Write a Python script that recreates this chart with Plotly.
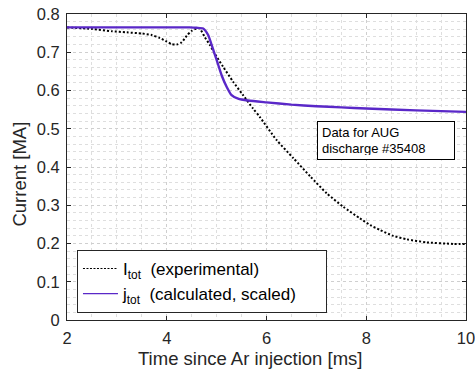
import plotly.graph_objects as go

# Experimental total current I_tot [MA]
t_exp = [2.0, 2.5, 2.9, 3.2, 3.5, 3.7, 3.85, 4.0, 4.1, 4.2, 4.3, 4.4, 4.5, 4.6, 4.66,
         4.76, 4.87, 4.96, 5.13, 5.33, 5.53, 5.73, 5.87, 6.2, 6.54, 6.88, 7.21, 7.54,
         7.87, 8.08, 8.28, 8.54, 8.81, 9.21, 9.74, 10.0]
i_exp = [0.765, 0.761, 0.755, 0.752, 0.749, 0.745, 0.738, 0.728, 0.721, 0.720, 0.726,
         0.743, 0.756, 0.762, 0.762, 0.740, 0.718, 0.697, 0.662, 0.623, 0.588, 0.553,
         0.530, 0.471, 0.423, 0.375, 0.331, 0.296, 0.266, 0.248, 0.235, 0.220, 0.211,
         0.203, 0.199, 0.199]

# Calculated, scaled j_tot [MA]
t_calc = [2.0, 3.0, 4.0, 4.46, 4.6, 4.73, 4.83, 4.9, 5.0, 5.1, 5.2, 5.3, 5.43, 5.63,
          6.0, 6.5, 7.0, 7.5, 8.0, 9.0, 10.0]
j_calc = [0.765, 0.765, 0.765, 0.765, 0.764, 0.762, 0.745, 0.719, 0.680, 0.640, 0.610,
          0.588, 0.579, 0.574, 0.569, 0.563, 0.559, 0.556, 0.553, 0.548, 0.544]

x_ticks = [2, 4, 6, 8, 10]
y_ticks = [0, 0.1, 0.2, 0.3, 0.4, 0.5, 0.6, 0.7, 0.8]

axcol = "#262626"
blue = "#5a28c8"
font = "Liberation Sans, Arial, sans-serif"

fig = go.Figure()
fig.add_trace(go.Scatter(
    x=t_exp, y=i_exp, mode="lines", showlegend=False,
    line=dict(color="black", width=2, dash="2px,2px", shape="spline", smoothing=0.6),
))
fig.add_trace(go.Scatter(
    x=t_calc, y=j_calc, mode="lines", showlegend=False,
    line=dict(color=blue, width=2.4, shape="spline", smoothing=0.6),
))
# legend entries (thin sample lines, like the reference legend)
fig.add_trace(go.Scatter(
    x=[None], y=[None], mode="lines", name="I<sub>tot</sub>  (experimental)",
    line=dict(color="black", width=1.2, dash="2px,1.5px"),
))
fig.add_trace(go.Scatter(
    x=[None], y=[None], mode="lines",
    name="j<sub>tot</sub>  (calculated, scaled)&nbsp;&nbsp;&nbsp;&nbsp;&nbsp;",
    line=dict(color=blue, width=1.2),
))

axis_common = dict(
    showline=True, linecolor=axcol, linewidth=1, mirror="allticks",
    ticks="inside", ticklen=4, tickcolor=axcol,
    tickfont=dict(family=font, size=16.5, color=axcol),
    showgrid=True, gridcolor="#cfcfcf", griddash="dot", gridwidth=1,
    zeroline=False, ticklabeloverflow="allow", automargin=False,
)

fig.update_xaxes(
    range=[2, 10], tickvals=x_ticks,
    minor=dict(dtick=0.5, showgrid=True, gridcolor="#dedede", griddash="dot", ticks=""),
    ticklabelstandoff=3,
    **axis_common,
)
fig.update_yaxes(
    range=[0, 0.8], tickvals=y_ticks,
    minor=dict(dtick=0.02, showgrid=True, gridcolor="#dedede", griddash="dot", ticks=""),
    ticklabelstandoff=3,
    **axis_common,
)

# axis titles
fig.add_annotation(
    x=0.459, y=-0.127, xref="paper", yref="paper", xanchor="center", yanchor="middle",
    text="Time since Ar injection [ms]", showarrow=False,
    font=dict(family=font, size=18.5, color=axcol),
)
fig.add_annotation(
    x=-0.119, y=0.477, xref="paper", yref="paper", xanchor="center", yanchor="middle",
    text="Current [MA]", showarrow=False, textangle=-90,
    font=dict(family=font, size=18.5, color=axcol),
)

fig.add_annotation(
    x=0.627, y=0.650, xref="paper", yref="paper", xanchor="left", yanchor="top",
    text="Data for AUG<br>discharge #35408", showarrow=False, align="left",
    width=128, height=29, borderpad=4,
    font=dict(family=font, size=13, color="black"),
    bordercolor="black", borderwidth=1, bgcolor="white",
)

fig.update_layout(
    width=475, height=370, autosize=False,
    margin=dict(l=67, r=9, t=14, b=50, autoexpand=False),
    paper_bgcolor="white", plot_bgcolor="white",
    showlegend=True,
    legend=dict(
        x=0.025, y=0.023, xanchor="left", yanchor="bottom",
        bgcolor="white", bordercolor=axcol, borderwidth=1,
        font=dict(family=font, size=17, color="black"),
        tracegroupgap=0, itemwidth=35,
    ),
)

fig.write_html(
    "out.html",
    config={"displayModeBar": False},
    post_script="document.body.style.margin='0px';document.body.style.padding='0px';",
)
